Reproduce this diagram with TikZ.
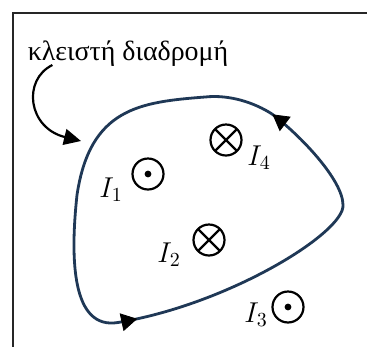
\documentclass[tikz,border=0pt]{standalone}
\usepackage{fontspec}
\newfontfamily\greekfont{Liberation Serif}
\usetikzlibrary{arrows.meta,decorations.markings,calc}
\definecolor{loopblue}{RGB}{31,56,86}
\tikzset{looptip/.tip={Triangle[length=8bp,width=9bp]}}
\begin{document}
\begin{tikzpicture}[x=0.5bp,y=-0.5bp,
  frame/.style={line width=1bp,black!85},
  current/.style={circle,draw,line width=1.1bp,minimum size=15.5bp,inner sep=0pt,outer sep=0pt},
  lab/.style={anchor=base west,inner sep=0pt,font=\fontsize{14}{16}\selectfont},
  looppath/.style={draw=loopblue,line width=1.4bp,line join=round},
  tipmark/.style={decoration={markings,mark=at position #1 with {\arrow{looptip}}},decorate},
  pointer/.style={line width=1.1bp,-{Triangle[length=8.5bp,width=8bp]}}
]
\useasboundingbox (0,0) rectangle (367,347);
% frame (only top and left edges visible)
\draw[frame] (13.5,347) -- (13.5,12.5) -- (367,12.5);

% closed path
\coordinate (b0) at (118,322.5);
\coordinate (r) at (343,205);
\coordinate (t) at (272,114);
\coordinate (m) at (205,97);
\coordinate (l) at (77,195);
\path[looppath] (b0) .. controls (230,304) and (345,232) .. (r)
  .. controls (343,180) and (300,135) .. (t)
  .. controls (255,103) and (230,94.3) .. (m)
  .. controls (140,102) and (90,108) .. (l)
  .. controls (70,260) and (72,330) .. (b0) -- cycle;
% arrowheads on the path
\path[tipmark=0.075] (b0) .. controls (230,304) and (345,232) .. (r);
\path[tipmark=0.995] (r) .. controls (343,180) and (300,135) .. (t);

% currents
\node[current] (c1) at (148,174) {};
\fill (c1.center) circle (1.7bp);
\node[current] (c2) at (209,240) {};
\draw[line width=1.1bp] (c2.north east) -- (c2.south west) (c2.north west) -- (c2.south east);
\node[current] (c3) at (288,307) {};
\fill (c3.center) circle (1.7bp);
\node[current] (c4) at (226,140) {};
\draw[line width=1.1bp] (c4.north east) -- (c4.south west) (c4.north west) -- (c4.south east);

% labels
\node[lab] (l1) at (99,197) {$I_1$};
\node[lab] (l2) at (157,262) {$I_2$};
\node[lab] (l3) at (244,322) {$I_3$};
\node[lab] (l4) at (247,165) {$I_4$};

% title and pointer
\node[anchor=base,inner sep=0pt,font=\greekfont\fontsize{14}{16}\selectfont] (title) at (128,60) {κλειστή διαδρομή};
\coordinate (target) at (81,141);
\draw[pointer] ($(title.base west)+(25,5)$) .. controls (22,80) and (28,128) .. (target);
\end{tikzpicture}
\end{document}
